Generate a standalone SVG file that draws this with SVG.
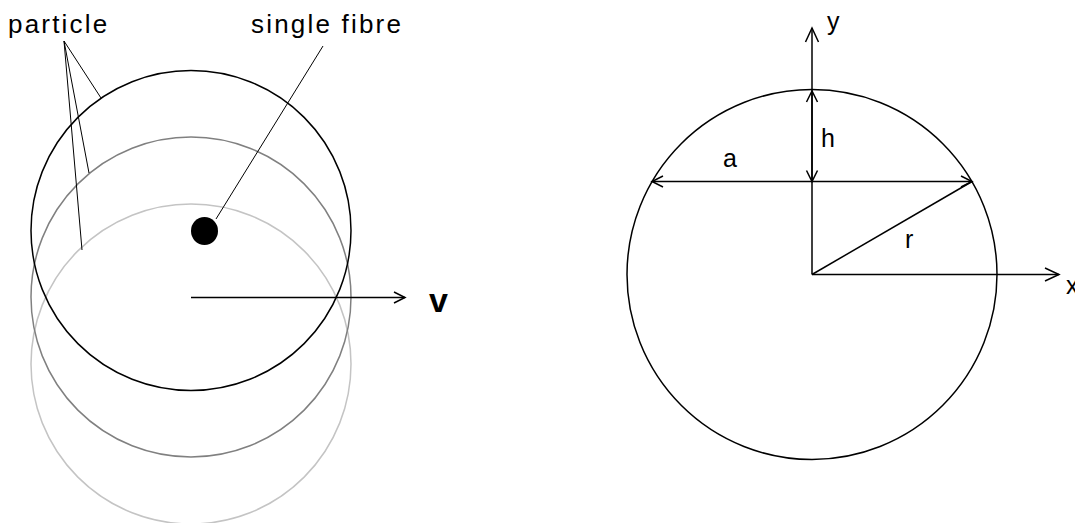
<svg xmlns="http://www.w3.org/2000/svg" width="1075" height="523" viewBox="0 0 1075 523">
  <style>
    .lbl { font-family: "Liberation Sans", Arial, sans-serif; font-size: 26px; fill: #000; }
    .lbl2 { font-family: "Liberation Sans", Arial, sans-serif; font-size: 25px; fill: #000; }
    .ln { fill: none; stroke: #000; stroke-width: 1.5; }
    .thin { fill: none; stroke: #000; stroke-width: 1; }
  </style>
  <defs>
    <marker id="ah" markerUnits="userSpaceOnUse" viewBox="-16 -8 18 16" refX="0" refY="0" markerWidth="18" markerHeight="16" orient="auto-start-reverse" overflow="visible">
      <path d="M-14,-6.5 L0,0 L-14,6.5" fill="none" stroke="#000" stroke-width="1.5"/>
    </marker>
    <marker id="ahs" markerUnits="userSpaceOnUse" viewBox="-14 -7 16 14" refX="0" refY="0" markerWidth="16" markerHeight="14" orient="auto-start-reverse" overflow="visible">
      <path d="M-11,-5.5 L0,0 L-11,5.5" fill="none" stroke="#000" stroke-width="1.5"/>
    </marker>
  </defs>

  <!-- Left: particle positions -->
  <g id="particle-3">
    <circle cx="191" cy="364" r="160" fill="none" stroke="#c4c4c4" stroke-width="1.5"/>
  </g>
  <g id="particle-2">
    <circle cx="191" cy="297" r="160" fill="none" stroke="#808080" stroke-width="1.5"/>
  </g>
  <g id="particle-1">
    <circle cx="191" cy="230.5" r="160" fill="none" stroke="#000" stroke-width="1.5"/>
  </g>
  <g id="fibre">
    <ellipse cx="204.5" cy="231" rx="13.5" ry="14" fill="#000"/>
  </g>
  <g id="label-particle">
    <text class="lbl" x="8" y="33" letter-spacing="2.2">particle</text>
  </g>
  <g id="label-fibre">
    <text class="lbl" x="251" y="33" letter-spacing="2.2">single fibre</text>
  </g>
  <g id="label-v">
    <text x="429" y="312" font-family="Liberation Sans, Arial, sans-serif" font-size="34" font-weight="bold">v</text>
  </g>

  <!-- Right: geometry -->
  <g id="circle-right">
    <circle cx="812" cy="274.5" r="185" fill="none" stroke="#000" stroke-width="1.5"/>
  </g>
  <g id="label-y"><text class="lbl2" x="827" y="30">y</text></g>
  <g id="label-x"><text class="lbl2" x="1066" y="294">x</text></g>
  <g id="label-h"><text class="lbl2" x="821" y="147">h</text></g>
  <g id="label-a"><text class="lbl2" x="723" y="167">a</text></g>
  <g id="label-r"><text class="lbl2" x="905" y="248">r</text></g>

  <g id="connectors">
    <!-- particle leaders -->
    <line class="thin" x1="64" y1="41" x2="101" y2="98"/>
    <line class="thin" x1="64" y1="41" x2="89" y2="173"/>
    <line class="thin" x1="64" y1="41" x2="82" y2="250"/>
    <!-- fibre leader -->
    <line class="thin" x1="216" y1="219" x2="323" y2="46"/>
    <!-- velocity arrow -->
    <line class="ln" x1="191" y1="297.5" x2="405" y2="297.5" marker-end="url(#ahs)"/>
    <!-- axes -->
    <line class="ln" x1="812" y1="274.5" x2="1059" y2="274.5" marker-end="url(#ah)"/>
    <line class="ln" x1="812" y1="274.5" x2="812" y2="28" marker-end="url(#ah)"/>
    <!-- h dimension -->
    <line class="ln" x1="812" y1="91" x2="812" y2="181.5" marker-start="url(#ahs)" marker-end="url(#ahs)"/>
    <!-- a chord -->
    <line class="ln" x1="652" y1="181.5" x2="972" y2="181.5" marker-start="url(#ahs)" marker-end="url(#ahs)"/>
    <!-- r radius -->
    <line class="ln" x1="812" y1="274.5" x2="972" y2="181.5"/>
  </g>
</svg>
